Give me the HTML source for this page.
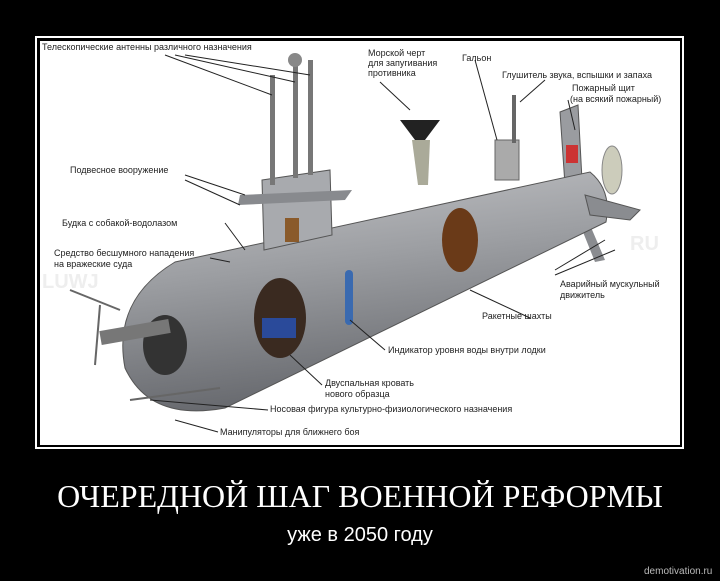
<!DOCTYPE html>
<html><head><meta charset="utf-8"><style>
html,body{margin:0;padding:0;background:#000;}
body{width:720px;height:581px;position:relative;overflow:hidden;font-family:"Liberation Sans",sans-serif;}
.t{position:absolute;color:#fff;white-space:nowrap;}
</style></head><body>
<div style="position:absolute;left:35px;top:36px;width:645px;height:409px;border:2px solid #fff;"></div>
<svg style="position:absolute;left:40px;top:41px" width="640" height="404" viewBox="40 41 640 404" font-family="Liberation Sans, sans-serif" font-size="9" fill="#222">
<defs>
<linearGradient id="g" x1="0" y1="0" x2="0.25" y2="1">
<stop offset="0" stop-color="#c4c5c8"/><stop offset="0.45" stop-color="#9c9ea2"/><stop offset="1" stop-color="#66686d"/>
</linearGradient>
</defs>
<rect x="40" y="41" width="640" height="404" fill="#fff"/>
<text x="42" y="288" font-size="20" fill="#eee" font-weight="bold">LUWJ</text>
<text x="630" y="250" font-size="20" fill="#eee" font-weight="bold">RU</text>
<path d="M560,112 L578,105 L582,180 L565,185 Z" fill="#9a9ca0" stroke="#555"/>
<path d="M590,225 L605,260 L595,262 L583,232 Z" fill="#8a8c90"/>
<path d="M175,262 L590,172 Q612,190 606,222 L225,408 Q150,422 125,368 Q112,300 175,262 Z" fill="url(#g)" stroke="#555" stroke-width="1"/>
<path d="M585,195 L640,210 L630,220 L590,215 Z" fill="#8a8c90" stroke="#555"/>
<ellipse cx="612" cy="170" rx="10" ry="24" fill="#ccb" stroke="#888"/>
<rect x="566" y="145" width="12" height="18" fill="#c33"/>
<path d="M262,180 L330,170 L332,235 L264,250 Z" fill="#a8aaae" stroke="#555"/>
<path d="M240,195 L352,190 L345,200 L238,205 Z" fill="#888a8e"/>
<rect x="285" y="218" width="14" height="24" fill="#8a5a2a"/>
<rect x="270" y="75" width="5" height="110" fill="#777"/>
<rect x="293" y="60" width="5" height="118" fill="#777"/>
<rect x="308" y="60" width="5" height="115" fill="#777"/>
<circle cx="295" cy="60" r="7" fill="#888"/>
<rect x="495" y="140" width="24" height="40" fill="#aaa" stroke="#666"/>
<rect x="512" y="95" width="4" height="48" fill="#666"/>
<ellipse cx="280" cy="318" rx="26" ry="40" fill="#3a2a20"/>
<rect x="262" y="318" width="34" height="20" fill="#2a4a9a"/>
<ellipse cx="460" cy="240" rx="18" ry="32" fill="#6a3a18"/>
<rect x="345" y="270" width="8" height="55" rx="4" fill="#3a6ab0"/>
<ellipse cx="165" cy="345" rx="22" ry="30" fill="#333"/>
<rect x="100" y="325" width="70" height="14" fill="#777" transform="rotate(-10 135 332)"/>
<path d="M400,120 L440,120 L425,140 L415,140 Z" fill="#222"/>
<path d="M412,140 L430,140 L428,185 L418,185 Z" fill="#aa9"/>
<line x1="70" y1="290" x2="120" y2="310" stroke="#666" stroke-width="2"/>
<line x1="100" y1="305" x2="95" y2="365" stroke="#666" stroke-width="2"/>
<line x1="130" y1="400" x2="220" y2="388" stroke="#666" stroke-width="2"/>
<g stroke="#222" stroke-width="1" fill="none">
<path d="M165,55 L272,95 M175,55 L295,82 M185,55 L310,75"/>
<path d="M185,175 L245,195 M185,180 L240,205"/>
<path d="M225,223 L245,250"/><path d="M210,258 L230,262"/>
<path d="M380,82 L410,110"/><path d="M475,60 L497,140"/>
<path d="M545,80 L520,102"/><path d="M568,100 L575,130"/>
<path d="M555,270 L605,240 M555,275 L615,250"/>
<path d="M530,318 L470,290"/><path d="M385,350 L350,320"/>
<path d="M322,385 L290,355"/><path d="M268,410 L150,400"/><path d="M218,432 L175,420"/>
</g>
<text x="42" y="50">Телескопические антенны различного назначения</text>
<text x="368" y="56">Морской черт</text><text x="368" y="66">для запугивания</text><text x="368" y="76">противника</text>
<text x="462" y="61">Гальон</text>
<text x="502" y="78">Глушитель звука, вспышки и запаха</text>
<text x="572" y="91">Пожарный щит</text><text x="570" y="102">(на всякий пожарный)</text>
<text x="70" y="173">Подвесное вооружение</text>
<text x="62" y="226">Будка с собакой-водолазом</text>
<text x="54" y="256">Средство бесшумного нападения</text><text x="54" y="267">на вражеские суда</text>
<text x="560" y="287">Аварийный мускульный</text><text x="560" y="298">движитель</text>
<text x="482" y="319">Ракетные шахты</text>
<text x="388" y="353">Индикатор уровня воды внутри лодки</text>
<text x="325" y="386">Двуспальная кровать</text><text x="325" y="397">нового образца</text>
<text x="270" y="412">Носовая фигура культурно-физиологического назначения</text>
<text x="220" y="435">Манипуляторы для ближнего боя</text>
</svg>
<div class="t" style="left:0;width:720px;text-align:center;top:478px;font-family:'Liberation Serif',serif;font-size:32px;">ОЧЕРЕДНОЙ ШАГ ВОЕННОЙ РЕФОРМЫ</div>
<div class="t" style="left:0;width:720px;text-align:center;top:524px;font-size:20px;">уже в 2050 году</div>
<div class="t" style="left:644px;top:566px;font-size:10px;color:#bbb;">demotivation.ru</div>
</body></html>
